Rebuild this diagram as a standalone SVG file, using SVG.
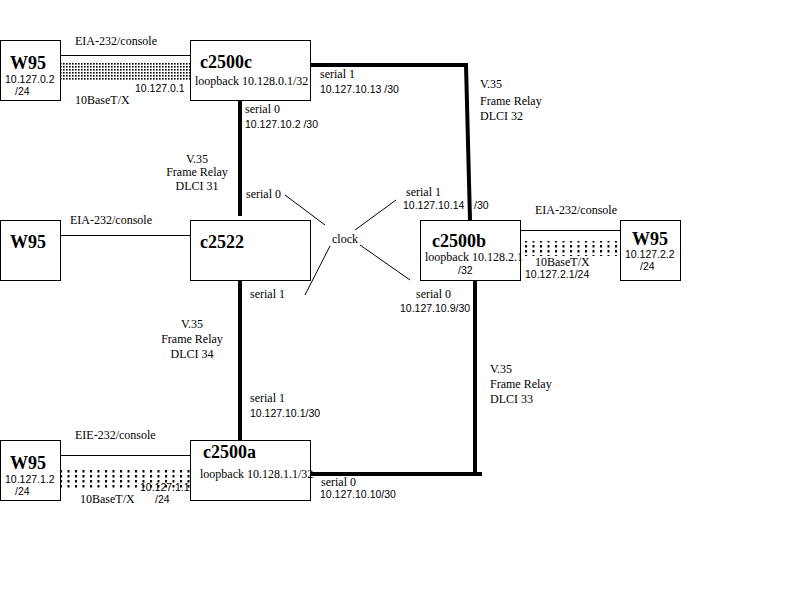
<svg xmlns="http://www.w3.org/2000/svg" width="800" height="600" viewBox="0 0 800 600">
<style>
.box{fill:#fff;stroke:#000;stroke-width:1}
.thin{stroke:#000;stroke-width:1;fill:none}
.thick{stroke:#000;stroke-width:4;fill:none}
.t{font-family:"Liberation Serif","Times New Roman",serif;font-size:12px;fill:#000}
.n{font-family:"Liberation Sans",Arial,sans-serif;font-size:10.5px;fill:#000}
.b{font-family:"Liberation Serif","Times New Roman",serif;font-size:18px;font-weight:bold;fill:#000}
.m{text-anchor:middle}
</style>
<defs>
<pattern id="dense" x="0" y="0" width="3" height="3" patternUnits="userSpaceOnUse">
<rect x="0" y="0" width="1.6" height="1.6" fill="#000"/>
</pattern>
<pattern id="sparse" x="0" y="0" width="7.5" height="5" patternUnits="userSpaceOnUse">
<rect x="0" y="0" width="2" height="2.5" fill="#000"/>
</pattern>
</defs>
<rect width="800" height="600" fill="#fff"/>

<g id="connectors">
<line class="thin" x1="60" y1="55.5" x2="190" y2="55.5"/>
<rect x="61" y="62" width="129" height="18" fill="url(#dense)"/>
<line class="thin" x1="60" y1="235.5" x2="190" y2="235.5"/>
<line class="thin" x1="520" y1="230.5" x2="620" y2="230.5"/>
<rect x="522" y="241" width="98" height="15" fill="url(#sparse)"/>
<line class="thin" x1="60" y1="455.5" x2="190" y2="455.5"/>
<rect x="61" y="470" width="129" height="19" fill="url(#sparse)"/>
<polyline class="thick" points="310,65 466,65 470,220"/>
<line class="thick" x1="240" y1="100" x2="240" y2="216"/>
<line class="thick" x1="240" y1="280" x2="240" y2="440"/>
<line class="thick" x1="475" y1="280" x2="475" y2="474"/>
<line class="thick" x1="310" y1="474" x2="482" y2="474"/>
<line class="thin" x1="285" y1="195" x2="325" y2="225"/>
<line class="thin" x1="396" y1="200" x2="355" y2="230"/>
<line class="thin" x1="360" y1="245" x2="410" y2="280"/>
<line class="thin" x1="330" y1="246" x2="305" y2="295"/>
<text class="t" x="75" y="45">EIA-232/console</text>
<text class="t" x="75" y="104">10BaseT/X</text>
<text class="n" x="135" y="92">10.127.0.1</text>
<text class="t" x="70" y="224">EIA-232/console</text>
<text class="t" x="535" y="214">EIA-232/console</text>
<text class="t" x="535" y="266">10BaseT/X</text>
<text class="n" x="525" y="278">10.127.2.1/24</text>
<text class="t" x="75" y="439">EIE-232/console</text>
<text class="t" x="80" y="503">10BaseT/X</text>
<text class="n" x="140" y="491">10.127.1.1</text>
<text class="n" x="155" y="503">/24</text>
<text class="t" x="320" y="78">serial 1</text>
<text class="n" x="320" y="93">10.127.10.13 /30</text>
<text class="t" x="480" y="88">V.35</text>
<text class="t" x="480" y="105">Frame Relay</text>
<text class="t" x="480" y="120">DLCI 32</text>
<text class="t" x="245" y="113">serial 0</text>
<text class="n" x="245" y="128">10.127.10.2 /30</text>
<text class="t m" x="197" y="163">V.35</text>
<text class="t m" x="197" y="176">Frame Relay</text>
<text class="t m" x="197" y="190">DLCI 31</text>
<text class="t" x="246" y="198">serial 0</text>
<text class="t" x="406" y="196">serial 1</text>
<text class="n" x="403" y="209">10.127.10.14<tspan x="474">/30</tspan></text>
<text class="t" x="332" y="243">clock</text>
<text class="t" x="250" y="298">serial 1</text>
<text class="t" x="416" y="298">serial 0</text>
<text class="n" x="400" y="312">10.127.10.9/30</text>
<text class="t m" x="192" y="328">V.35</text>
<text class="t m" x="192" y="343">Frame Relay</text>
<text class="t m" x="192" y="358">DLCI 34</text>
<text class="t" x="490" y="373">V.35</text>
<text class="t" x="490" y="388">Frame Relay</text>
<text class="t" x="490" y="403">DLCI 33</text>
<text class="t" x="250" y="402">serial 1</text>
<text class="n" x="250" y="417">10.127.10.1/30</text>
<text class="t" x="321" y="486">serial 0</text>
<text class="n" x="320" y="498">10.127.10.10/30</text>
</g>

<g id="w95-top">
<rect class="box" x="0.5" y="40.5" width="60" height="60"/>
<text class="b" x="10" y="69">W95</text>
<text class="n" x="5" y="83">10.127.0.2</text>
<text class="n" x="15" y="95">/24</text>
</g>
<g id="c2500c">
<rect class="box" x="190.5" y="40.5" width="120" height="60"/>
<text class="b" x="200" y="68">c2500c</text>
<text class="t" x="195" y="85">loopback 10.128.0.1/32</text>
</g>
<g id="w95-mid">
<rect class="box" x="0.5" y="220.5" width="60" height="60"/>
<text class="b" x="10" y="248">W95</text>
</g>
<g id="c2522">
<rect class="box" x="190.5" y="220.5" width="120" height="60"/>
<text class="b" x="200" y="248">c2522</text>
</g>
<g id="c2500b">
<rect class="box" x="420.5" y="220.5" width="100" height="60"/>
<text class="b" x="432" y="247">c2500b</text>
<text class="t" x="425" y="261">loopback 10.128.2.1</text>
<text class="n" x="458" y="274">/32</text>
</g>
<g id="w95-right">
<rect class="box" x="620.5" y="220.5" width="60" height="60"/>
<text class="b" x="632" y="245">W95</text>
<text class="n" x="625" y="258">10.127.2.2</text>
<text class="n" x="640" y="270">/24</text>
</g>
<g id="w95-bottom">
<rect class="box" x="0.5" y="440.5" width="60" height="60"/>
<text class="b" x="10" y="469">W95</text>
<text class="n" x="5" y="483">10.127.1.2</text>
<text class="n" x="15" y="495">/24</text>
</g>
<g id="c2500a">
<rect class="box" x="190.5" y="440.5" width="120" height="60"/>
<text class="b" x="203" y="458">c2500a</text>
<text class="t" x="200" y="478">loopback 10.128.1.1/32</text>
</g>
</svg>
